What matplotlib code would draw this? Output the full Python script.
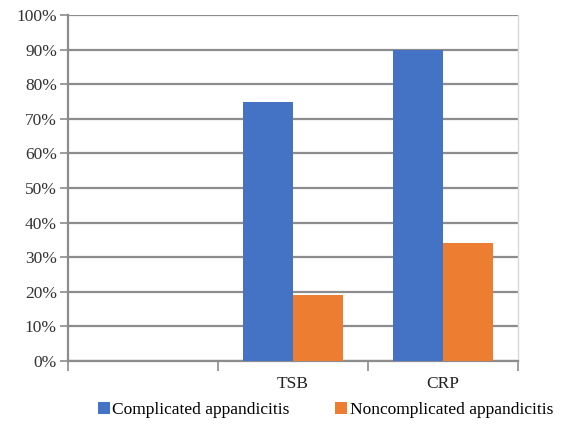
import matplotlib
matplotlib.use("Agg")
import matplotlib.pyplot as plt
import numpy as np
from matplotlib.ticker import FuncFormatter

categories = ["", "TSB", "CRP"]
complicated = [0, 75, 90]
noncomplicated = [0, 19, 34]
series_names = ["Complicated appandicitis", "Noncomplicated appandicitis"]
yticks = [0, 10, 20, 30, 40, 50, 60, 70, 80, 90, 100]

plt.rcParams['font.family'] = ['Liberation Serif', 'DejaVu Serif']

fig = plt.figure(figsize=(5.63, 4.25), dpi=100)
ax = fig.add_axes([68/563, 64/425, 450/563, 346/425])

x = np.arange(len(categories))
w = 1/3
blue = "#4472C4"
orange = "#ED7D31"
ax.bar(x - w/2, complicated, w, color=blue, label=series_names[0], zorder=3)
ax.bar(x + w/2, noncomplicated, w, color=orange, label=series_names[1], zorder=3)

ax.set_xlim(-0.5, len(categories) - 0.5)
ax.set_ylim(0, 100)
ax.set_yticks(yticks)
ax.yaxis.set_major_formatter(FuncFormatter(lambda v, p: f"{int(v)}%"))
ax.yaxis.grid(True, color="#8c8c8c", linewidth=1.6, zorder=0)
ax.set_axisbelow(True)

ax.set_xticks(x)
ax.set_xticklabels(categories)
ax.set_xticks(np.arange(len(categories) + 1) - 0.5, minor=True)
ax.tick_params(axis='x', which='major', length=0, labelsize=12.5, pad=11, colors="#222222")
ax.tick_params(axis='x', which='minor', length=7, width=1.2, color="#8c8c8c", direction='out')
ax.tick_params(axis='y', length=6, width=1.2, color="#8c8c8c", labelsize=12.5, labelcolor="#333333", pad=2)

ax.spines["top"].set_visible(False)
ax.spines["right"].set_color("#d9d9d9")
ax.spines["right"].set_linewidth(1.0)
ax.spines["left"].set_color("#8c8c8c")
ax.spines["left"].set_linewidth(1.6)
ax.spines["bottom"].set_color("#8c8c8c")
ax.spines["bottom"].set_linewidth(1.6)

fig.legend(loc="center", bbox_to_anchor=(0.578, 1 - 410/425), ncol=2, frameon=False,
           fontsize=12.5, handlelength=0.7, handleheight=0.7, handletextpad=0.15,
           columnspacing=2.6, borderaxespad=0)

fig.savefig("out.png", dpi=100)
